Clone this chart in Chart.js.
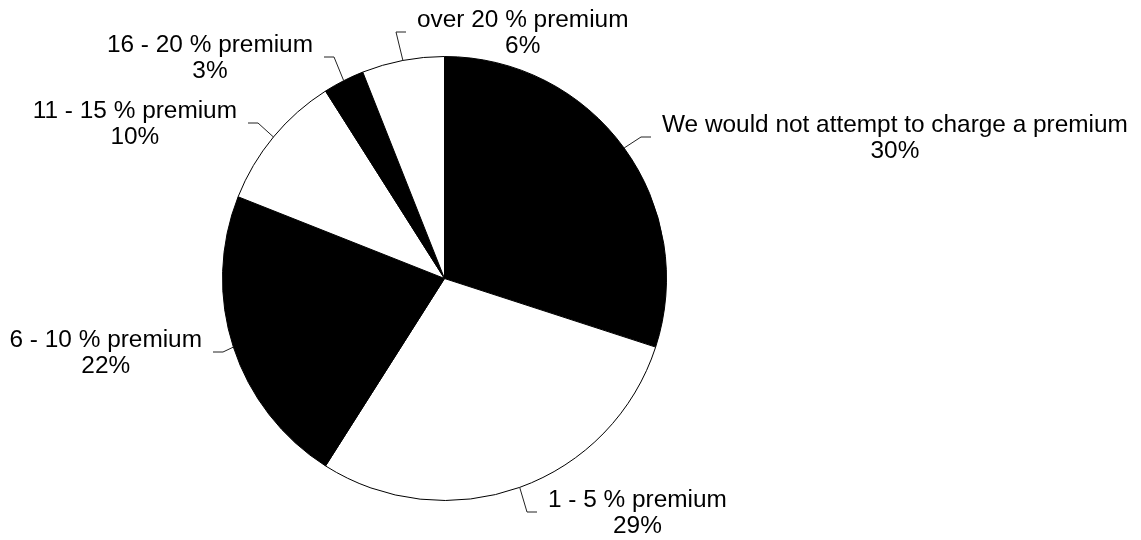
<!DOCTYPE html>
<html>
<head>
<meta charset="utf-8">
<script src="https://cdn.jsdelivr.net/npm/chart.js@4"></script>
<style>
  html, body { margin: 0; padding: 0; background: #fff; }
  #wrap { width: 1141px; height: 540px; }
</style>
</head>
<body>
<div id="wrap"><canvas id="myChart"></canvas></div>
<script>
// answers, clockwise from 12 o'clock
const categories = [
    'We would not attempt to charge a premium',
    '1 - 5 % premium',
    '6 - 10 % premium',
    '11 - 15 % premium',
    '16 - 20 % premium',
    'over 20 % premium'
];
const shares = [30, 29, 22, 10, 3, 6];
const sliceColors = ['#000', '#fff', '#000', '#fff', '#000', '#fff'];

// where each label sits, relative to the pie centre:
// x of the text edge nearest the pie, y of the first baseline
const labelSpots = [
    { dx: 217.5, dy: -146.5, side: 'right' },
    { dx: 103.5, dy: 228.5, side: 'right' },
    { dx: -242.5, dy: 68.5, side: 'left' },
    { dx: -207.5, dy: -160.5, side: 'left' },
    { dx: -131.5, dy: -226.5, side: 'left' },
    { dx: -27.5, dy: -251.5, side: 'right' }
];

const calloutLabels = {
    id: 'calloutLabels',
    afterDraw(chart) {
        const ctx = chart.ctx;
        const arcs = chart.getDatasetMeta(0).data;
        ctx.save();
        ctx.font = '24.4px "Liberation Sans", Arial, sans-serif';
        ctx.fillStyle = '#000';
        ctx.textBaseline = 'alphabetic';
        ctx.textAlign = 'center';
        arcs.forEach((arc, i) => {
            const spot = labelSpots[i];
            const cx = arc.x, cy = arc.y;
            const mid = (arc.startAngle + arc.endAngle) / 2;
            const r = arc.outerRadius;
            const line1 = categories[i];
            const line2 = shares[i] + '%';
            const w = Math.max(ctx.measureText(line1).width, ctx.measureText(line2).width);
            const edge = cx + spot.dx;
            const base = cy + spot.dy;
            const dir = spot.side === 'right' ? 1 : -1;
            const textCx = edge + dir * w / 2;

            // leader line: slice edge -> elbow -> short flat piece
            const ly = base + 5;
            ctx.beginPath();
            ctx.strokeStyle = '#222';
            ctx.lineWidth = 1;
            ctx.moveTo(cx + Math.cos(mid) * r, cy + Math.sin(mid) * r);
            ctx.lineTo(edge - dir * 21, ly);
            ctx.lineTo(edge - dir * 11, ly);
            ctx.stroke();

            ctx.fillText(line1, textCx, base);
            ctx.fillText(line2, textCx, base + 26);
        });
        ctx.restore();
    }
};

function chartIt() {
    const ctx = document.getElementById('myChart').getContext('2d');
    const chart = new Chart(ctx, {
        type: 'pie',
        data: {
            labels: categories,
            datasets: [{
                data: shares,
                backgroundColor: sliceColors,
                borderColor: '#000',
                borderWidth: 1
            }]
        },
        options: {
            responsive: true,
            maintainAspectRatio: false,
            animation: false,
            layout: {
                padding: { left: 222, right: 474, top: 56, bottom: 39 }
            },
            plugins: {
                legend: { display: false },
                tooltip: { enabled: false }
            }
        },
        plugins: [calloutLabels]
    });
}
chartIt();
</script>
</body>
</html>
